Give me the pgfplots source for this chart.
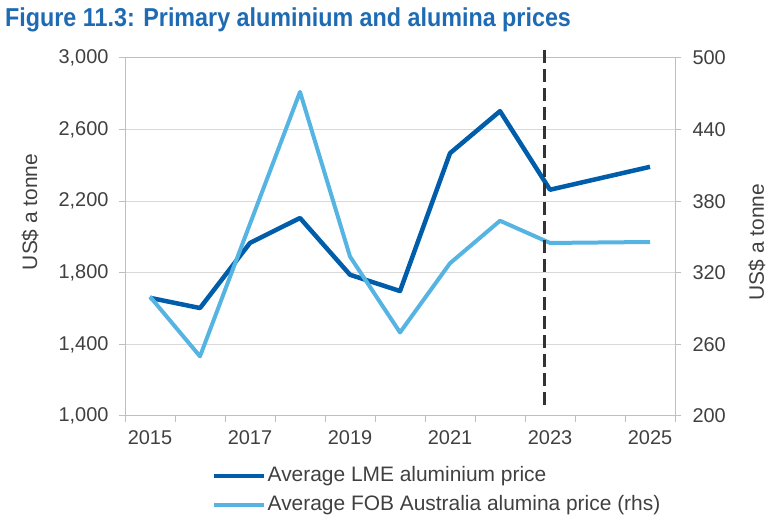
\documentclass[border=0pt]{standalone}
\usepackage{fontspec}
\setmainfont{Liberation Sans}
\newfontfamily\titlefont[FakeStretch=0.9]{Liberation Sans}
\usepackage{pgfplots}
\pgfplotsset{compat=1.18}
\definecolor{darkblue}{HTML}{005DAA}
\definecolor{lightblue}{HTML}{56B4E2}
\definecolor{titleblue}{HTML}{1F6BB3}
\definecolor{axgray}{HTML}{BFBFBF}
\definecolor{gridgray}{HTML}{D9D9D9}
\definecolor{txtgray}{HTML}{404040}
\definecolor{dashgray}{HTML}{333333}
\pgfplotsset{
  common/.style={
    at={(125bp,107bp)}, anchor=south west, scale only axis,
    width=550bp, height=358bp,
    xmin=-0.5, xmax=10.5,
    tick align=outside,
    major tick length=6bp, minor tick length=6bp,
    axis line style={draw=axgray, line width=1bp},
    every tick/.style={draw=axgray, line width=1bp},
    tick label style={font=\fontsize{20}{24}\selectfont, text=txtgray},
    /pgf/number format/assume math mode=true,
    /pgf/number format/1000 sep={,},
    scaled ticks=false,
    clip=false,
  }
}
\begin{document}
\begin{tikzpicture}[x=1bp,y=1bp]
\useasboundingbox (0,0) rectangle (775,523);
\node[anchor=base west, inner sep=0, font=\titlefont\bfseries\fontsize{26}{30}\selectfont, text=titleblue] at (5,496) {Figure 11.3: Primary aluminium and alumina prices};

\begin{axis}[common,
  ymin=1000, ymax=3000, ytick={1000,1400,...,3000},
  ymajorgrids, grid style={draw=gridgray, line width=1bp},
  xtick={0,2,4,6,8,10}, xticklabels={2015,2017,2019,2021,2023,2025},
  minor xtick={-0.5,0.5,...,10.5},
  major x tick style={draw=none},
  xtick pos=bottom, ytick pos=left,
  yticklabel style={xshift=-7bp},
  xticklabel style={yshift=-5bp},
  ylabel={US\$ a tonne},
  every axis y label/.style={at={(axis description cs:-0.1727,0.57)}, anchor=center, rotate=90, font=\fontsize{21}{24}\selectfont, text=txtgray},
]
\addplot[darkblue, line width=4.5bp, line join=round] coordinates {
(0,1660)(1,1603)(2,1967)(3,2106)(4,1789)(5,1698)(6,2468)(7,2703)(8,2264)(10,2392)};
\end{axis}

\begin{axis}[common,
  ymin=200, ymax=500, ytick={200,260,...,500},
  axis x line=none, axis y line*=right,
  ytick pos=right,
  yticklabel style={xshift=8bp},
  ylabel={US\$ a tonne},
  every axis y label/.style={at={(axis description cs:1.149,0.486)}, anchor=center, rotate=90, font=\fontsize{21}{24}\selectfont, text=txtgray},
  legend style={at={(axis description cs:0.1527,-0.131)}, anchor=north west, draw=none, fill=none,
    font=\fontsize{21}{24}\selectfont, text=txtgray, row sep=7bp,
    nodes={inner sep=1bp, text height=15bp, text depth=5bp}},
  legend cell align=left,
  legend image code/.code={\draw[#1] (0bp,0bp) -- (50bp,0bp);},
]
\addlegendimage{darkblue, line width=4.5bp}
\addlegendentry{Average LME aluminium price}
\addplot[lightblue, line width=4bp, line join=round] coordinates {
(0,300)(1,250)(2,361)(3,471.6)(4,333.6)(5,270)(6,328)(7,363.6)(8,345)(10,345.8)};
\addlegendentry{Average FOB Australia alumina price (rhs)}
\addplot[dashgray, line width=3bp, dash pattern=on 13bp off 6bp, forget plot] coordinates {(7.88,209)(7.88,508.4)};
\end{axis}
\end{tikzpicture}
\end{document}
